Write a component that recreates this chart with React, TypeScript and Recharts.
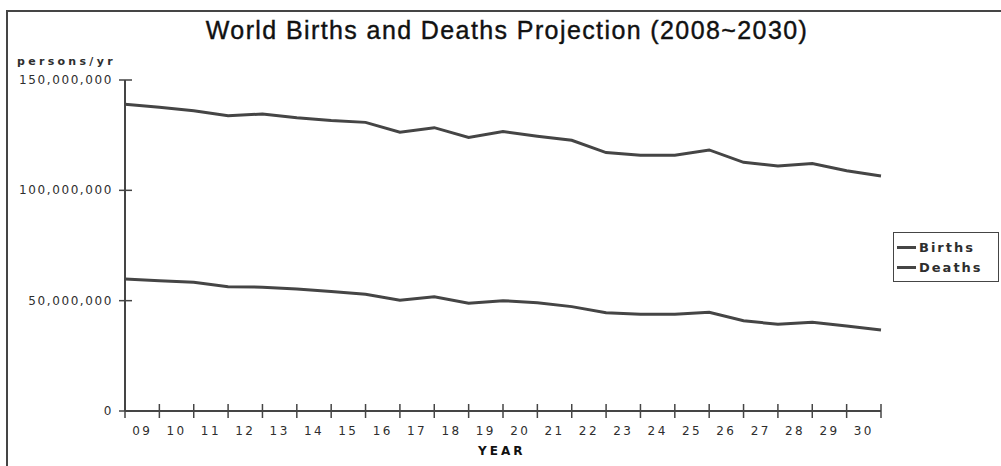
import React from "react";
import { LineChart, Line, XAxis, YAxis, Legend } from "recharts";

// year points sit on the tick marks, labels sit between them
const pointYears = [2008, 2009, 2010, 2011, 2012, 2013, 2014, 2015, 2016, 2017, 2018, 2019, 2020, 2021, 2022, 2023, 2024, 2025, 2026, 2027, 2028, 2029, 2030];
const yearLabels = ["09", "10", "11", "12", "13", "14", "15", "16", "17", "18", "19", "20", "21", "22", "23", "24", "25", "26", "27", "28", "29", "30"];
const births = [139.0, 137.6, 136.1, 133.8, 134.6, 132.9, 131.6, 130.8, 126.3, 128.4, 124.0, 126.6, 124.5, 122.7, 117.1, 115.9, 115.9, 118.3, 112.7, 111.0, 112.2, 108.9, 106.5];
const deaths = [59.8, 59.0, 58.3, 56.3, 56.1, 55.3, 54.1, 52.9, 50.2, 51.8, 48.8, 50.0, 49.1, 47.3, 44.5, 43.8, 43.8, 44.7, 40.9, 39.3, 40.2, 38.5, 36.7];
const yTicks = [0, 50000000, 100000000, 150000000];

const data = pointYears.map((year, i) => ({
  year,
  births: births[i] * 1e6,
  deaths: deaths[i] * 1e6,
}));

const W = 1001;
const H = 466;
const LEGEND_W = 106;
const RIGHT_GAP = 120; // space right of the plot, legend included
const M = { top: 80, right: RIGHT_GAP - LEGEND_W, left: 0, bottom: 0 };
const Y_AXIS_W = 125;
const X_AXIS_H = 55;
const plotW = W - RIGHT_GAP - Y_AXIS_W;
const halfStep = plotW / (pointYears.length - 1) / 2;

const INK = "#454545";
const TXT = "#2e2e2e";
const FONT = "'DejaVu Sans', sans-serif";

function YTick(props: any) {
  const { x, y, payload } = props;
  return (
    <g>
      <line x1={x - 6} x2={x + 7} y1={y} y2={y} stroke={INK} strokeWidth={1.5} />
      <text x={x - 12} y={y} dy={4} textAnchor="end" fontSize={12} fill={TXT} fontFamily={FONT} letterSpacing={1.6}>
        {Number(payload.value).toLocaleString("en-US")}
      </text>
    </g>
  );
}

function XTick(props: any) {
  const { x, y, index } = props;
  const label = yearLabels[index];
  return (
    <g>
      <line x1={x} x2={x} y1={y - 7} y2={y + 7} stroke={INK} strokeWidth={1.5} />
      {label && (
        <text x={x + halfStep} y={y + 24} textAnchor="middle" fontSize={12} fill={TXT} fontFamily={FONT} letterSpacing={2.4}>
          {label}
        </text>
      )}
    </g>
  );
}

function LegendBox(props: any) {
  const { payload } = props;
  return (
    <div
      style={{
        border: `1.5px solid ${INK}`,
        padding: "4px 2px 4px 3px",
        background: "#fff",
        fontFamily: FONT,
        fontWeight: "bold",
        fontSize: 13,
        letterSpacing: 2,
        color: TXT,
        whiteSpace: "nowrap",
      }}
    >
      {(payload || []).map((p: any) => (
        <div key={p.value} style={{ display: "flex", alignItems: "center", height: 20 }}>
          <span style={{ display: "inline-block", width: 19, height: 3, background: INK, marginRight: 3 }} />
          {p.value}
        </div>
      ))}
    </div>
  );
}

export default function App() {
  return (
    <div style={{ position: "absolute", left: 0, top: 0, width: W, height: H, background: "#fff", overflow: "hidden" }}>
      <div style={{ position: "absolute", left: 6, top: 10, width: W, height: H, borderLeft: `2px solid ${INK}`, borderTop: `2px solid ${INK}` }} />
      <div
        style={{
          position: "absolute",
          left: 0,
          top: 16,
          width: 1014,
          textAlign: "center",
          fontFamily: "'Liberation Sans', Arial, sans-serif",
          fontSize: 25,
          letterSpacing: 1.4,
          WebkitTextStroke: "0.4px #111",
          color: "#111",
        }}
      >
        World Births and Deaths Projection (2008~2030)
      </div>
      <div style={{ position: "absolute", left: 17, top: 55, fontFamily: FONT, fontWeight: "bold", fontSize: 11, letterSpacing: 3.3, color: TXT }}>
        persons/yr
      </div>
      <div style={{ position: "absolute", left: 478, top: 444, fontFamily: FONT, fontWeight: "bold", fontSize: 12, letterSpacing: 3, color: "#111" }}>
        YEAR
      </div>
      <div style={{ position: "absolute", left: 0, top: 0 }}>
        <LineChart width={W} height={H} data={data} margin={M}>
          <XAxis
            dataKey="year"
            type="number"
            domain={[2008, 2030]}
            ticks={pointYears}
            interval={0}
            height={X_AXIS_H}
            tickSize={0}
            tickMargin={0}
            tickLine={false}
            axisLine={{ stroke: INK, strokeWidth: 2 }}
            tick={<XTick />}
          />
          <YAxis
            domain={[0, 150000000]}
            ticks={yTicks}
            width={Y_AXIS_W}
            tickSize={0}
            tickMargin={0}
            tickLine={false}
            axisLine={{ stroke: INK, strokeWidth: 2 }}
            tick={<YTick />}
          />
          <Legend
            layout="vertical"
            align="right"
            verticalAlign="top"
            content={<LegendBox />}
            wrapperStyle={{ left: 893, top: 232, width: LEGEND_W }}
          />
          <Line type="linear" dataKey="births" name="Births" stroke={INK} strokeWidth={3} dot={false} isAnimationActive={false} />
          <Line type="linear" dataKey="deaths" name="Deaths" stroke={INK} strokeWidth={3} dot={false} isAnimationActive={false} />
        </LineChart>
      </div>
    </div>
  );
}
